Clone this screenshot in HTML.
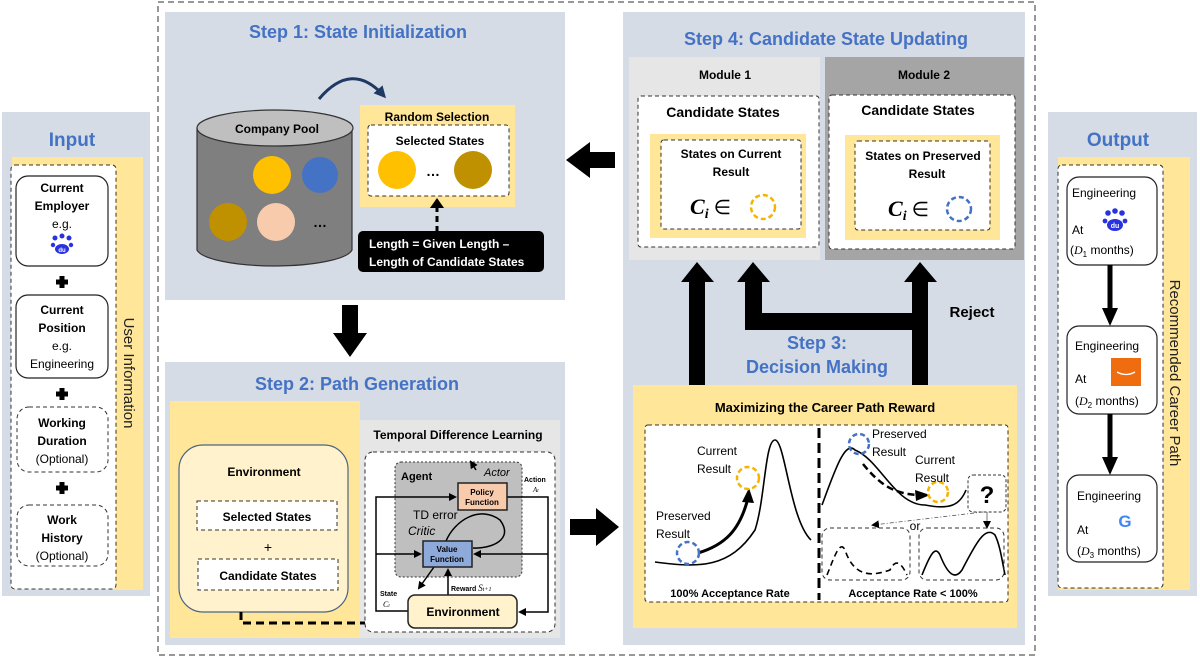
<!DOCTYPE html>
<html><head><meta charset="utf-8"><style>
html,body{margin:0;padding:0;background:#fff;}
svg{display:block;font-family:"Liberation Sans",sans-serif;}
.b{font-weight:bold}
</style></head><body>
<svg width="1200" height="660" viewBox="0 0 1200 660" xmlns="http://www.w3.org/2000/svg">
<defs>
<marker id="ah" markerWidth="8" markerHeight="8" refX="6" refY="4" orient="auto" markerUnits="userSpaceOnUse"><path d="M0,0 L8,4 L0,8 z" fill="#000"/></marker>
<marker id="ahn" markerWidth="12" markerHeight="12" refX="9" refY="6" orient="auto" markerUnits="userSpaceOnUse"><path d="M0,0 L12,6 L0,12 z" fill="#1f3864"/></marker>
</defs>
<rect x="158" y="2" width="877" height="653" fill="none" stroke="#777" stroke-width="1.5" stroke-dasharray="6,4"/>

<!-- INPUT -->
<rect x="2" y="112" width="148" height="484" fill="#d6dce5"/>
<text x="72" y="146" text-anchor="middle" class="b" font-size="19" fill="#4472c4">Input</text>
<rect x="12" y="157" width="131" height="433" fill="#ffe699"/>
<rect x="11" y="165" width="105" height="424" rx="4" fill="#fff" stroke="#333" stroke-dasharray="4,3"/>
<text transform="translate(124,373) rotate(90)" text-anchor="middle" font-size="15" fill="#222">User Information</text>
<rect x="16" y="176" width="92" height="90" rx="12" fill="#fff" stroke="#222" stroke-width="1.2"/>
<text x="62" y="192" text-anchor="middle" class="b" font-size="12">Current</text>
<text x="62" y="210" text-anchor="middle" class="b" font-size="12">Employer</text>
<text x="62" y="228" text-anchor="middle" font-size="12">e.g.</text>
<g fill="#2932e1"><circle cx="55" cy="238" r="2.5"/><circle cx="62" cy="236" r="2.5"/><circle cx="69" cy="238" r="2.5"/><circle cx="53" cy="245" r="2.2"/><circle cx="71" cy="245" r="2.2"/><ellipse cx="62" cy="249" rx="7" ry="5"/></g>
<text x="62" y="252" text-anchor="middle" font-size="6" fill="#fff" class="b">du</text>
<path d="M62,276 v12 M56,282 h12" stroke="#000" stroke-width="5"/>
<rect x="16" y="295" width="92" height="83" rx="12" fill="#fff" stroke="#222" stroke-width="1.2"/>
<text x="62" y="314" text-anchor="middle" class="b" font-size="12">Current</text>
<text x="62" y="332" text-anchor="middle" class="b" font-size="12">Position</text>
<text x="62" y="350" text-anchor="middle" font-size="12">e.g.</text>
<text x="62" y="368" text-anchor="middle" font-size="12">Engineering</text>
<path d="M62,388 v12 M56,394 h12" stroke="#000" stroke-width="5"/>
<rect x="17" y="407" width="91" height="65" rx="12" fill="#fff" stroke="#333" stroke-dasharray="4,3"/>
<text x="62" y="427" text-anchor="middle" class="b" font-size="12">Working</text>
<text x="62" y="445" text-anchor="middle" class="b" font-size="12">Duration</text>
<text x="62" y="463" text-anchor="middle" font-size="12">(Optional)</text>
<path d="M62,482 v12 M56,488 h12" stroke="#000" stroke-width="5"/>
<rect x="17" y="505" width="91" height="61" rx="12" fill="#fff" stroke="#333" stroke-dasharray="4,3"/>
<text x="62" y="524" text-anchor="middle" class="b" font-size="12">Work</text>
<text x="62" y="542" text-anchor="middle" class="b" font-size="12">History</text>
<text x="62" y="560" text-anchor="middle" font-size="12">(Optional)</text>

<!-- OUTPUT -->
<rect x="1048" y="112" width="149" height="484" fill="#d6dce5"/>
<text x="1118" y="146" text-anchor="middle" class="b" font-size="19" fill="#4472c4">Output</text>
<rect x="1058" y="157" width="132" height="433" fill="#ffe699"/>
<rect x="1058" y="165" width="105" height="423" rx="4" fill="#fff" stroke="#333" stroke-dasharray="4,3"/>
<text transform="translate(1170,373) rotate(90)" text-anchor="middle" font-size="15" fill="#222">Recommended Career Path</text>
<rect x="1067" y="177" width="90" height="88" rx="12" fill="#fff" stroke="#222" stroke-width="1.2"/>
<text x="1072" y="197" font-size="12">Engineering</text>
<g fill="#2932e1"><circle cx="1108" cy="213" r="2.8"/><circle cx="1115" cy="211" r="2.8"/><circle cx="1122" cy="213" r="2.8"/><circle cx="1105" cy="221" r="2.4"/><circle cx="1125" cy="221" r="2.4"/><ellipse cx="1115" cy="225" rx="8" ry="6"/></g>
<text x="1115" y="228" text-anchor="middle" font-size="7" fill="#fff" class="b">du</text>
<text x="1072" y="234" font-size="12">At</text>
<text x="1070" y="254" font-size="12">(<tspan font-style="italic" font-family="Liberation Serif">D</tspan><tspan font-size="8" dy="3">1</tspan><tspan dy="-3"> months)</tspan></text>
<path d="M1110,265 v45" stroke="#000" stroke-width="5"/><path d="M1102,308 L1118,308 L1110,326 z"/>
<rect x="1067" y="326" width="90" height="88" rx="12" fill="#fff" stroke="#222" stroke-width="1.2"/>
<text x="1075" y="350" font-size="12">Engineering</text>
<rect x="1111" y="358" width="30" height="28" fill="#f06d0f"/>
<path d="M1117,372 q9,5 18,0" stroke="#fff" stroke-width="1.3" fill="none"/>
<text x="1075" y="383" font-size="12">At</text>
<text x="1075" y="405" font-size="12">(<tspan font-style="italic" font-family="Liberation Serif">D</tspan><tspan font-size="8" dy="3">2</tspan><tspan dy="-3"> months)</tspan></text>
<path d="M1110,414 v45" stroke="#000" stroke-width="5"/><path d="M1102,457 L1118,457 L1110,475 z"/>
<rect x="1067" y="475" width="90" height="87" rx="12" fill="#fff" stroke="#222" stroke-width="1.2"/>
<text x="1077" y="500" font-size="12">Engineering</text>
<text x="1125" y="527" text-anchor="middle" font-size="17" class="b" fill="#4285f4">G</text>
<text x="1077" y="534" font-size="12">At</text>
<text x="1077" y="555" font-size="12">(<tspan font-style="italic" font-family="Liberation Serif">D</tspan><tspan font-size="8" dy="3">3</tspan><tspan dy="-3"> months)</tspan></text>

<!-- STEP 1 -->
<rect x="165" y="12" width="400" height="288" fill="#d6dce5"/>
<text x="358" y="38" text-anchor="middle" class="b" font-size="18" fill="#4472c4">Step 1: State Initialization</text>
<path d="M197,128 v122 a78,18 0 0 0 155,0 v-122" fill="#7f7f7f" stroke="#333" stroke-width="1.2"/>
<ellipse cx="275" cy="128" rx="78" ry="18" fill="#bfbfbf" stroke="#333" stroke-width="1.2"/>
<text x="277" y="133" text-anchor="middle" class="b" font-size="12">Company Pool</text>
<circle cx="272" cy="175" r="19" fill="#ffc000"/>
<circle cx="320" cy="175" r="18" fill="#4472c4"/>
<circle cx="228" cy="222" r="19" fill="#bf9000"/>
<circle cx="276" cy="222" r="19" fill="#f8cbad"/>
<text x="320" y="227" text-anchor="middle" class="b" font-size="14">…</text>
<path d="M319,99 Q352,60 384,96" fill="none" stroke="#1f3864" stroke-width="3" marker-end="url(#ahn)"/>
<rect x="360" y="105" width="155" height="102" fill="#ffe699"/>
<text x="437" y="121" text-anchor="middle" class="b" font-size="12">Random Selection</text>
<rect x="368" y="125" width="141" height="71" rx="3" fill="#fff" stroke="#333" stroke-dasharray="4,3"/>
<text x="440" y="145" text-anchor="middle" class="b" font-size="12">Selected States</text>
<circle cx="397" cy="170" r="19" fill="#ffc000"/>
<circle cx="473" cy="170" r="19" fill="#bf9000"/>
<text x="433" y="176" text-anchor="middle" class="b" font-size="14">…</text>
<path d="M437,232 V206" stroke="#000" stroke-width="3" stroke-dasharray="6,4"/><path d="M430,208 L444,208 L437,198 z"/>
<rect x="358" y="231" width="186" height="41" rx="5" fill="#000"/>
<text x="369" y="248" font-size="12" class="b" fill="#fff">Length = Given Length –</text>
<text x="369" y="266" font-size="12" class="b" fill="#fff">Length of Candidate States</text>

<!-- STEP 2 -->
<rect x="165" y="362" width="400" height="283" fill="#d6dce5"/>
<text x="357" y="390" text-anchor="middle" class="b" font-size="18" fill="#4472c4">Step 2: Path Generation</text>
<rect x="170" y="401" width="190" height="237" fill="#ffe699"/>
<rect x="360" y="420" width="200" height="218" fill="#e7e6e6"/>
<rect x="179" y="445" width="169" height="167" rx="24" fill="#fff2cc" stroke="#4a6488" stroke-width="1.2"/>
<text x="264" y="476" text-anchor="middle" class="b" font-size="12">Environment</text>
<rect x="197" y="501" width="140" height="29" fill="#fff" stroke="#333" stroke-dasharray="4,3"/>
<text x="267" y="521" text-anchor="middle" class="b" font-size="12">Selected States</text>
<text x="268" y="552" text-anchor="middle" font-size="14">+</text>
<rect x="198" y="559" width="140" height="31" fill="#fff" stroke="#333" stroke-dasharray="4,3"/>
<text x="268" y="580" text-anchor="middle" class="b" font-size="12">Candidate States</text>
<path d="M241,612 V623 H398" fill="none" stroke="#000" stroke-width="3" stroke-dasharray="8,5"/><path d="M396,617 L408,623 L396,629 z"/>
<text x="458" y="439" text-anchor="middle" class="b" font-size="12">Temporal Difference Learning</text>
<rect x="365" y="452" width="190" height="180" rx="8" fill="#fff" stroke="#333" stroke-dasharray="4,3"/>
<rect x="395" y="462" width="127" height="115" rx="6" fill="#bfbfbf" stroke="#333" stroke-dasharray="2,2"/>
<text x="401" y="480" class="b" font-size="11">Agent</text>
<text x="484" y="476" font-style="italic" font-size="11">Actor</text>
<path d="M476,470 L471,462" stroke="#000" stroke-width="1.5" marker-end="url(#ah)"/>
<g fill="none" stroke="#000" stroke-width="1.5">
<path d="M408,611 H376 V497 H455" marker-end="url(#ah)"/>
<path d="M376,554 H420" marker-end="url(#ah)"/>
<path d="M507,497 H548 V612 H520" marker-end="url(#ah)"/>
<path d="M548,554 H475" marker-end="url(#ah)"/>
<path d="M448,595 V570" marker-end="url(#ah)"/>
<path d="M434,567 L419,588" marker-end="url(#ah)"/>
<path d="M446,541 C455,520 480,505 500,520 C515,540 490,549 473,548"/>
</g>
<rect x="458" y="483" width="49" height="27" fill="#f8cbad" stroke="#222" stroke-width="1.5"/>
<text x="482" y="495" text-anchor="middle" class="b" font-size="8">Policy</text>
<text x="482" y="505" text-anchor="middle" class="b" font-size="8">Function</text>
<rect x="423" y="541" width="49" height="26" fill="#8eaadb" stroke="#222" stroke-width="1.5"/>
<text x="447" y="552" text-anchor="middle" class="b" font-size="8">Value</text>
<text x="447" y="562" text-anchor="middle" class="b" font-size="8">Function</text>
<text x="413" y="519" font-size="12">TD error</text>
<text x="408" y="535" font-style="italic" font-size="12">Critic</text>
<text x="524" y="482" class="b" font-size="7">Action</text>
<text x="533" y="492" font-style="italic" font-size="7" font-family="Liberation Serif">A<tspan font-size="5">t</tspan></text>
<text x="451" y="591" class="b" font-size="7">Reward <tspan font-style="italic" font-size="9" font-weight="normal" font-family="Liberation Serif">S<tspan font-size="6">t+1</tspan></tspan></text>
<text x="380" y="596" class="b" font-size="7">State</text>
<text x="383" y="607" font-style="italic" font-size="8" font-family="Liberation Serif">C<tspan font-size="5">t</tspan></text>
<rect x="408" y="595" width="109" height="33" rx="7" fill="#fff2cc" stroke="#222" stroke-width="1.5"/>
<text x="463" y="616" text-anchor="middle" class="b" font-size="12">Environment</text>

<!-- STEP 4 -->
<rect x="623" y="12" width="402" height="633" fill="#d6dce5"/>
<text x="826" y="45" text-anchor="middle" class="b" font-size="18" fill="#4472c4">Step 4: Candidate State Updating</text>
<rect x="629" y="57" width="191" height="203" fill="#e7e6e6"/>
<rect x="825" y="57" width="199" height="203" fill="#a5a5a5"/>
<text x="725" y="79" text-anchor="middle" class="b" font-size="12">Module 1</text>
<text x="924" y="79" text-anchor="middle" class="b" font-size="12">Module 2</text>
<rect x="638" y="96" width="181" height="151" rx="3" fill="#fff" stroke="#333" stroke-dasharray="4,3"/>
<text x="723" y="117" text-anchor="middle" class="b" font-size="14">Candidate States</text>
<rect x="650" y="134" width="156" height="104" fill="#ffe699"/>
<rect x="661" y="140" width="140" height="89" rx="3" fill="#fff" stroke="#333" stroke-dasharray="4,3"/>
<text x="731" y="158" text-anchor="middle" class="b" font-size="12">States on Current</text>
<text x="731" y="176" text-anchor="middle" class="b" font-size="12">Result</text>
<text x="690" y="214" font-family="Liberation Serif" font-style="italic" class="b" font-size="22">C<tspan font-size="14" dy="4">i</tspan><tspan dy="-4" font-style="normal" font-weight="normal" font-size="20"> ∈</tspan></text>
<circle cx="763" cy="207" r="12" fill="none" stroke="#f5b400" stroke-width="2.5" stroke-dasharray="5,3"/>
<rect x="829" y="95" width="186" height="154" rx="3" fill="#fff" stroke="#333" stroke-dasharray="4,3"/>
<text x="918" y="115" text-anchor="middle" class="b" font-size="14">Candidate States</text>
<rect x="845" y="135" width="155" height="105" fill="#ffe699"/>
<rect x="855" y="141" width="135" height="89" rx="3" fill="#fff" stroke="#333" stroke-dasharray="4,3"/>
<text x="923" y="160" text-anchor="middle" class="b" font-size="12">States on Preserved</text>
<text x="927" y="178" text-anchor="middle" class="b" font-size="12">Result</text>
<text x="888" y="216" font-family="Liberation Serif" font-style="italic" class="b" font-size="22">C<tspan font-size="14" dy="4">i</tspan><tspan dy="-4" font-style="normal" font-weight="normal" font-size="20"> ∈</tspan></text>
<circle cx="959" cy="209" r="12" fill="none" stroke="#4472c4" stroke-width="2.5" stroke-dasharray="5,3"/>
<g fill="#000">
<rect x="689" y="280" width="16" height="105"/><path d="M681,282 L714,282 L697,262 z"/>
<path d="M745,280 H762 V313 H912 V280 H928 V385 H912 V330 H745 z"/>
<path d="M737,282 L770,282 L753,262 z"/>
<path d="M904,282 L937,282 L920,262 z"/>
</g>
<text x="972" y="317" text-anchor="middle" class="b" font-size="15">Reject</text>
<text x="817" y="349" text-anchor="middle" class="b" font-size="18" fill="#4472c4">Step 3:</text>
<text x="817" y="373" text-anchor="middle" class="b" font-size="18" fill="#4472c4">Decision Making</text>
<rect x="633" y="385" width="384" height="243" fill="#ffe699"/>
<text x="825" y="412" text-anchor="middle" class="b" font-size="13">Maximizing the Career Path Reward</text>
<rect x="645" y="425" width="363" height="177" rx="3" fill="#fff" stroke="#333" stroke-dasharray="4,3"/>
<path d="M819,428 V600" stroke="#000" stroke-width="3" stroke-dasharray="10,5"/>
<g fill="none" stroke="#000" stroke-width="1.6">
<path d="M655,562 C700,568 730,568 755,530 C765,500 765,440 775,440 C785,440 790,520 811,540"/>
<path d="M698,553 C725,545 740,530 748,498" stroke-width="3"/>
<path d="M822,505 C835,470 845,440 855,450 C880,460 895,505 925,505 C950,510 960,505 966,490"/>
<path d="M863,464 C880,485 895,495 922,495" stroke-width="2.5" stroke-dasharray="7,4"/>
<path d="M827,575 C835,555 840,540 845,550 C855,580 875,575 890,570 C895,560 900,560 907,575" stroke-dasharray="6,4"/>
<path d="M922,575 C930,555 935,545 940,555 C948,575 955,580 962,570 C975,545 985,525 995,535 C1000,545 1002,560 1005,575"/>
</g>
<path d="M742,502 L749,488 L754,503 z"/>
<path d="M915,490 L930,495 L916,501 z"/>
<circle cx="748" cy="478" r="11" fill="none" stroke="#f5b400" stroke-width="2.5" stroke-dasharray="5,3"/>
<circle cx="688" cy="553" r="11" fill="none" stroke="#4472c4" stroke-width="2.5" stroke-dasharray="5,3"/>
<circle cx="859" cy="444" r="10" fill="none" stroke="#4472c4" stroke-width="2.5" stroke-dasharray="5,3"/>
<circle cx="938" cy="492" r="10" fill="none" stroke="#f5b400" stroke-width="2.5" stroke-dasharray="5,3"/>
<text x="697" y="455" font-size="12">Current</text>
<text x="697" y="473" font-size="12">Result</text>
<text x="656" y="520" font-size="12">Preserved</text>
<text x="656" y="538" font-size="12">Result</text>
<text x="872" y="438" font-size="12">Preserved</text>
<text x="872" y="456" font-size="12">Result</text>
<text x="915" y="464" font-size="12">Current</text>
<text x="915" y="482" font-size="12">Result</text>
<rect x="968" y="475" width="38" height="37" rx="5" fill="#fff" stroke="#333" stroke-dasharray="3,2"/>
<text x="987" y="503" text-anchor="middle" class="b" font-size="24">?</text>
<path d="M983,512 L873,525" stroke="#555" stroke-width="0.8" stroke-dasharray="4,2,1,2" marker-end="url(#ah)"/>
<path d="M987,512 V527" stroke="#555" stroke-width="0.8" marker-end="url(#ah)"/>
<text x="915" y="530" text-anchor="middle" font-size="12">or</text>
<rect x="822" y="528" width="88" height="52" rx="8" fill="none" stroke="#333" stroke-dasharray="4,3"/>
<rect x="919" y="528" width="85" height="52" rx="8" fill="none" stroke="#333" stroke-dasharray="4,3"/>
<text x="730" y="597" text-anchor="middle" class="b" font-size="11">100% Acceptance Rate</text>
<text x="913" y="597" text-anchor="middle" class="b" font-size="11">Acceptance Rate &lt; 100%</text>

<g fill="#000">
<path d="M615,152 H590 V142 L566,160 L590,178 V168 H615 z"/>
<path d="M342,305 V333 H333 L350,357 L367,333 H358 V305 z"/>
<path d="M570,519 H596 V508 L619,527 L596,546 V535 H570 z"/>
</g>
</svg>
</body></html>
